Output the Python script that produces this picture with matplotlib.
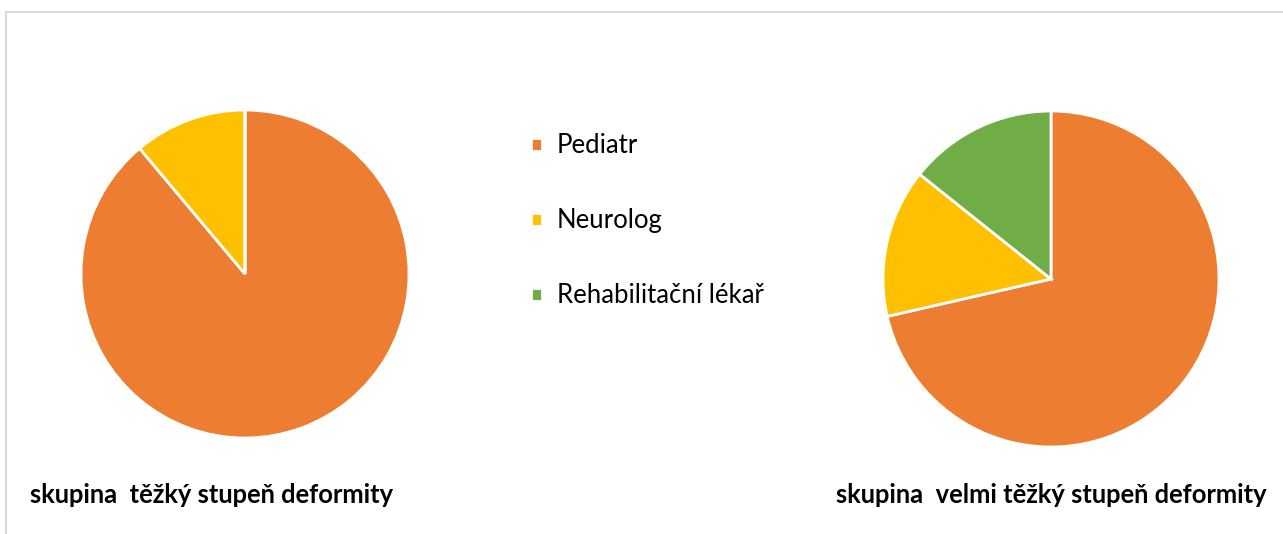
import matplotlib.pyplot as plt
from matplotlib.patches import Rectangle

plt.rcParams['font.family'] = ['Lato', 'DejaVu Sans']

labels = ['Pediatr', 'Neurolog', 'Rehabilitační lékař']
colors = ['#ED7D31', '#FFC000', '#70AD47']
heavy = [8, 1, 0]
very_heavy = [5, 1, 1]
titles = ['skupina  těžký stupeň deformity', 'skupina  velmi těžký stupeň deformity']

W, H = 1283, 534
fig = plt.figure(figsize=(W / 100, H / 100), dpi=100)

# chart frame (right and bottom cut off in the original)
fig.patches.append(Rectangle((6 / W, -0.1), 1.2, (H - 12) / H + 0.1, transform=fig.transFigure,
                             fill=False, edgecolor='#d9d9d9', linewidth=1.5))


def pie_axes(cx, cy, r, values):
    ax = fig.add_axes([(cx - r) / W, (H - cy - r) / H, 2 * r / W, 2 * r / H])
    wedges, _ = ax.pie(values, colors=colors, startangle=90, counterclock=False, radius=1,
                       wedgeprops=dict(edgecolor='white', linewidth=2))
    ax.set_xlim(-1, 1)
    ax.set_ylim(-1, 1)
    ax.set_aspect('equal')
    ax.axis('off')
    return wedges


wedges = pie_axes(245, 274, 164, heavy)
pie_axes(1051, 279, 168, very_heavy)

fig.text(30 / W, 1 - 495 / H, titles[0], fontsize=18.4, fontweight='bold', va='center', ha='left')
fig.text(836 / W, 1 - 495 / H, titles[1], fontsize=18.4, fontweight='bold', va='center', ha='left')

fig.legend(wedges, labels, loc='upper left', bbox_to_anchor=(521 / W, 1 - 123 / H),
           frameon=False, fontsize=18.5, handlelength=0.4, handleheight=0.4,
           handletextpad=0.6, labelspacing=1.95, borderaxespad=0)

fig.savefig('out.png', dpi=100)
